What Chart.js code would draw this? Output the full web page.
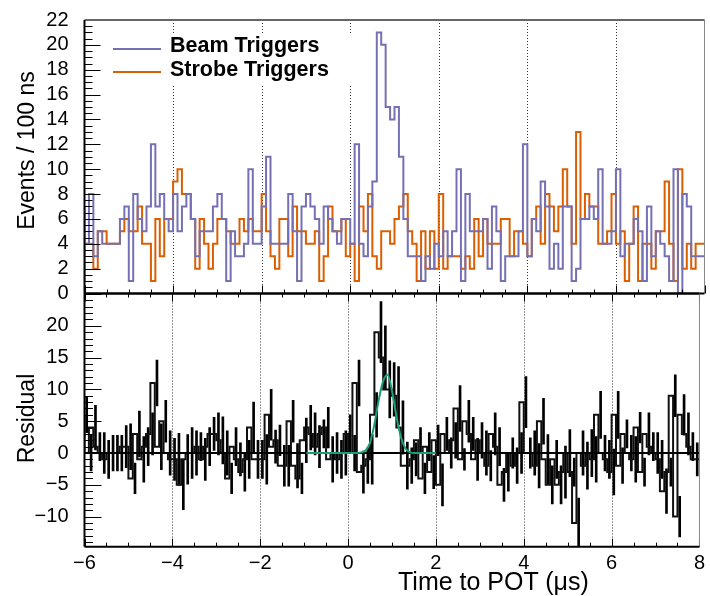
<!DOCTYPE html>
<html><head><meta charset="utf-8">
<script src="https://cdn.jsdelivr.net/npm/chart.js@4.4.1/dist/chart.umd.min.js"></script>
<style>
html,body{margin:0;padding:0;background:#fff;}
#wrap{position:relative;width:710px;height:596px;overflow:hidden;font-family:"Liberation Sans",Arial,Helvetica,sans-serif;color:#000;}
#wrap canvas{position:absolute;left:0;top:0;}
.txt{position:absolute;white-space:nowrap;line-height:1;}
.leg{font-weight:bold;font-size:21.5px;left:170px;}
.ytitle{font-size:23px;width:300px;text-align:center;transform:rotate(-90deg);}
.legline{position:absolute;left:113px;width:48px;height:2px;}
</style></head><body>
<div id="wrap">
<canvas id="cTop" width="710" height="596" style="width:710px;height:596px"></canvas>
<canvas id="cBot" width="710" height="596" style="width:710px;height:596px"></canvas>
<div class="legline" style="top:48px;background:#7570b3"></div>
<div class="legline" style="top:70.7px;background:#d95f02"></div>
<div class="txt leg" style="top:35.1px">Beam Triggers</div>
<div class="txt leg" style="top:58.5px">Strobe Triggers</div>
<div class="txt ytitle" style="left:-124px;top:138.5px">Events / 100 ns</div>
<div class="txt ytitle" style="left:-124px;top:406.5px">Residual</div>
<div class="txt" style="font-size:25px;left:398px;top:568.5px">Time to POT (μs)</div>
</div>
<script>
// ---- data ----
const binLow = -6, binWidth = 0.1;
const beamCounts = [7,4,8,3,5,4,4,4,4,6, 7,1,8,6,5,7,12,7,8,6, 5,8,5,7,8,6,3,5,5,5, 7,8,6,1,5,3,3,4,10,4,
  4,7,11,4,4,4,4,8,5,1, 7,8,7,6,4,7,6,5,4,6, 6,4,12,4,3,7,9,21,20,15, 14,15,11,6,3,3,3,1,3,2,
  4,3,5,3,5,10,1,8,5,5, 5,6,2,7,5,1,3,3,3,5, 12,3,6,5,9,7,2,4,2,7, 7,1,2,6,6,7,6,10,4,4,
  5,10,3,4,4,6,5,1,7,3, 5,4,3,1,10,0,8,7,3,3];
const strobeCounts = [1,4,4,2,5,5,4,4,4,5, 6,5,5,7,4,4,1,6,3,6, 6,9,10,8,8,6,2,6,4,2, 4,6,6,5,4,4,6,5,6,5,
  5,8,5,3,2,6,6,3,7,5, 5,4,4,5,1,3,7,5,5,6, 3,4,1,7,5,8,3,2,5,5, 4,6,7,8,5,4,1,5,2,5,
  2,8,2,3,3,3,2,3,2,6, 3,6,4,4,4,6,6,3,5,5, 4,3,6,7,4,8,7,5,7,10, 7,4,13,6,8,7,7,4,4,5,
  8,4,5,1,4,7,1,4,4,2, 5,5,9,4,1,10,2,4,2,4];
const residual = [6,0,4,1,0,-1,0,0,0,1, 1,-4,3,-1,1,3,11,1,5,0, -1,-1,-5,-1,0,0,1,-1,1,3, 3,2,0,-4,1,-1,-3,-1,4,-1,
  -1,-1,6,1,2,-2,-2,5,-2,-4, 2,4,3,1,3,4,-1,0,-1,0, 3,0,11,-3,-2,-1,6,19,15,10, 10,9,4,-2,-2,-1,2,-4,1,-3,
  2,-5,3,0,2,7,-1,5,3,-1, 2,0,-2,3,1,-5,-3,0,-2,0, 8,0,0,-2,5,-1,-5,-1,-5,-3, 0,-3,-11,0,-2,0,-1,6,0,-1,
  -3,6,-2,3,0,-1,4,-3,3,1, 0,-1,-6,-3,9,-10,6,3,1,-1];
const residualErr = [2.8,2.8,3.5,2.2,3.2,3.0,2.8,2.8,2.8,3.3, 3.6,2.4,3.6,3.6,3.0,3.3,3.6,3.6,3.3,3.5,
  3.3,4.1,3.9,3.9,4.0,3.5,2.2,3.3,3.0,2.6, 3.3,3.7,3.5,2.4,3.0,2.6,3.0,3.0,4.0,3.0,
  3.0,3.9,4.0,2.6,2.4,3.2,3.2,3.3,3.5,2.4, 3.5,3.5,3.3,3.3,2.2,3.2,3.6,3.2,3.0,3.5,
  3.0,2.8,3.6,3.3,2.8,3.9,3.5,4.8,5.0,4.5, 4.2,4.6,4.2,3.7,2.8,2.6,2.0,2.4,2.2,2.6,
  2.4,3.3,2.6,2.4,2.8,3.6,1.7,3.3,2.6,3.3, 2.8,3.5,2.4,3.3,3.0,2.6,3.0,2.4,2.8,3.2,
  4.0,2.4,3.5,3.5,3.6,3.9,3.0,3.0,3.0,4.1, 3.7,2.2,3.9,3.5,3.7,3.7,3.6,3.7,2.8,3.0,
  3.6,3.7,2.8,2.2,2.8,3.6,2.4,2.2,3.3,2.2, 3.2,3.0,3.5,2.2,3.3,3.2,3.2,3.3,2.2,2.6];
const fitX = [-0.95, 0.2, 0.3, 0.4, 0.5, 0.6, 0.7, 0.8, 0.9, 1.0, 1.1, 1.2, 1.3, 1.4, 1.5, 2.0];
const fitY = [0, 0, 0.1, 0.4, 1.6, 4.5, 8.4, 11.3, 12.3, 9.8, 5.8, 2.6, 0.8, 0.15, 0, 0];
const xTickValues = [-6, -4, -2, 0, 2, 4, 6, 8];
const xGridValues = [-4, -2, 0, 2, 4, 6];
const topYTickValues = [0, 2, 4, 6, 8, 10, 12, 14, 16, 18, 20, 22];
const botYTickValues = [-10, -5, 0, 5, 10, 15, 20];

// ---- helpers ----
const FONT = '"Liberation Sans", Arial, Helvetica, sans-serif';
const fmt = v => { const n = Number(v); return n < 0 ? '\u2212' + Math.abs(n) : String(n); };
function stepPoints(vals) {
  const pts = vals.map((v, i) => ({x: binLow + i * binWidth, y: v}));
  pts.push({x: binLow + vals.length * binWidth, y: vals[vals.length - 1]});
  return pts;
}
function tickList(min, max, step) {
  const out = [];
  for (let k = Math.ceil(min / step - 1e-9); k * step <= max + 1e-9; k++) out.push(k * step);
  return out;
}
function isMult(v, m) { const r = Math.abs(v / m - Math.round(v / m)); return r < 1e-6; }

function panelPlugin(o) {
  return {
    id: 'panel_' + o.name,
    beforeDatasetsDraw(chart) {
      const {ctx, chartArea: a} = chart; const xs = chart.scales.x;
      ctx.save();
      ctx.strokeStyle = '#333'; ctx.lineWidth = 1; ctx.setLineDash([1, 2]);
      xGridValues.forEach(v => {
        const p = Math.round(xs.getPixelForValue(v)) + 0.5;
        ctx.beginPath(); ctx.moveTo(p, a.top); ctx.lineTo(p, a.bottom); ctx.stroke();
      });
      ctx.setLineDash([]);
      if (o.legendBox) { ctx.fillStyle = '#fff'; ctx.fillRect(o.legendBox[0], o.legendBox[1], o.legendBox[2], o.legendBox[3]); }
      ctx.restore();
    },
    afterDatasetsDraw(chart) {
      const {ctx, chartArea: a} = chart; const xs = chart.scales.x, ys = chart.scales.y;
      ctx.save();
      ctx.strokeStyle = '#000'; ctx.lineWidth = 1;
      ctx.beginPath();
      tickList(ys.min, ys.max, o.yMinor).forEach(v => {
        const p = Math.round(ys.getPixelForValue(v)) + 0.5;
        const L = isMult(v, o.yMajor) ? o.yMajorLen : o.yMinorLen;
        ctx.moveTo(a.left, p); ctx.lineTo(a.left + L, p);
      });
      tickList(xs.min, xs.max, 0.5).forEach(v => {
        const p = Math.round(xs.getPixelForValue(v)) + 0.5;
        const L = isMult(v, 2) ? 8 : 4;
        ctx.moveTo(p, a.bottom); ctx.lineTo(p, a.bottom - L);
        if (o.topTicks) { ctx.moveTo(p, a.top); ctx.lineTo(p, a.top + L); }
      });
      ctx.stroke();
      // frame
      ctx.lineWidth = 1;
      ctx.strokeStyle = '#888';
      ctx.beginPath(); ctx.moveTo(a.right, a.top); ctx.lineTo(a.right, a.bottom); ctx.stroke();
      ctx.strokeStyle = o.topColor; ctx.lineWidth = o.topWidth;
      ctx.beginPath(); ctx.moveTo(a.left, a.top); ctx.lineTo(a.right, a.top); ctx.stroke();
      ctx.strokeStyle = '#000'; ctx.lineWidth = 2;
      ctx.beginPath(); ctx.moveTo(a.left, a.top); ctx.lineTo(a.left, a.bottom); ctx.stroke();
      ctx.beginPath(); ctx.moveTo(a.left, a.bottom); ctx.lineTo(a.right, a.bottom); ctx.stroke();
      ctx.restore();
    }
  };
}

const tickFont = {family: FONT, size: 20};

// ---- top panel ----
new Chart(document.getElementById('cTop'), {
  type: 'line',
  data: {datasets: [
    {label: 'Beam Triggers', data: stepPoints(beamCounts), stepped: 'after', borderColor: '#7570b3', borderWidth: 2, pointRadius: 0, pointHoverRadius: 0, fill: false, order: 0},
    {label: 'Strobe Triggers', data: stepPoints(strobeCounts), stepped: 'after', borderColor: '#d95f02', borderWidth: 2, pointRadius: 0, pointHoverRadius: 0, fill: false, order: 1}
  ]},
  options: {
    responsive: false, devicePixelRatio: 1, animation: false,
    layout: {autoPadding: false, padding: {top: 12.3, right: 5.5, bottom: 302.5, left: 0}},
    plugins: {legend: {display: false}, tooltip: {enabled: false}},
    scales: {
      x: {type: 'linear', min: -6, max: 8, display: false},
      y: {type: 'linear', min: 0, max: 22,
        afterFit: s => { s.width = 84.5; },
        afterBuildTicks: s => { s.ticks = topYTickValues.map(v => ({value: v})); },
        grid: {display: false}, border: {display: false},
        ticks: {font: tickFont, color: '#000', padding: 8, autoSkip: false, callback: fmt}}
    }
  },
  plugins: [panelPlugin({name: 'top', yMinor: 0.5, yMajor: 2, yMajorLen: 16, yMinorLen: 8, topTicks: false,
    topColor: '#666', topWidth: 2, legendBox: [100, 34, 262, 52]})]
});

// ---- bottom panel ----
new Chart(document.getElementById('cBot'), {
  type: 'line',
  data: {datasets: [
    {type: 'line', label: 'fit', data: fitX.map((x, i) => ({x: x, y: fitY[i]})), borderColor: '#1b9e77', borderWidth: 2, pointRadius: 0, pointHoverRadius: 0, cubicInterpolationMode: 'monotone', fill: false, order: 0},
    {type: 'line', label: 'zero', data: [{x: -6, y: 0}, {x: 8, y: 0}], borderColor: '#000', borderWidth: 2, pointRadius: 0, pointHoverRadius: 0, fill: false, order: 1},
    {type: 'line', label: 'residual', data: stepPoints(residual), stepped: 'after', borderColor: '#111', borderWidth: 2, pointRadius: 0, pointHoverRadius: 0, fill: false, order: 2},
    {type: 'bar', label: 'err', data: residual.map((r, i) => ({x: binLow + (i + 0.5) * binWidth, y: [r - residualErr[i], r + residualErr[i]]})),
      backgroundColor: '#000', borderWidth: 0, barThickness: 2, order: 3}
  ]},
  options: {
    responsive: false, devicePixelRatio: 1, animation: false,
    layout: {autoPadding: false, padding: {top: 293.5, right: 5.5, bottom: 0, left: 0}},
    plugins: {legend: {display: false}, tooltip: {enabled: false}},
    scales: {
      x: {type: 'linear', min: -6, max: 8, offset: false,
        afterFit: s => { s.height = 49.3; },
        afterBuildTicks: s => { s.ticks = xTickValues.map(v => ({value: v})); },
        grid: {display: false, offset: false, drawTicks: false}, border: {display: false},
        ticks: {font: tickFont, color: '#000', padding: 5, maxRotation: 0, autoSkip: false, callback: fmt}},
      y: {type: 'linear', min: -14.73, max: 25.08,
        afterFit: s => { s.width = 84.5; },
        afterBuildTicks: s => { s.ticks = botYTickValues.map(v => ({value: v})); },
        grid: {display: false}, border: {display: false},
        ticks: {font: tickFont, color: '#000', padding: 8, autoSkip: false, callback: fmt}}
    }
  },
  plugins: [panelPlugin({name: 'bot', yMinor: 1, yMajor: 5, yMajorLen: 17, yMinorLen: 8.5, topTicks: true,
    topColor: '#000', topWidth: 2})]
});
</script>
</body></html>
